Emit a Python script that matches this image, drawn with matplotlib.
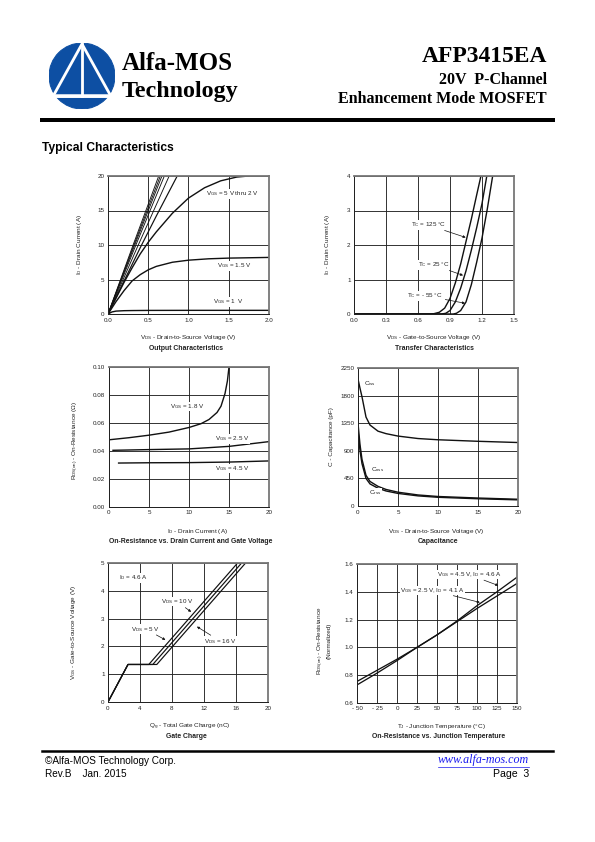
import matplotlib
matplotlib.use('Agg')
import matplotlib.pyplot as plt
from matplotlib.patches import Circle, Polygon

W, H = 595, 842

# ---- Output characteristics (VDS, ID) ----
out_vds_1v = [0, 0.05, 0.1, 0.2, 0.3, 0.5, 1.0, 2.0]
out_id_1v = [0, 0.3, 0.42, 0.48, 0.5, 0.52, 0.53, 0.53]
out_vds_15v = [0, 0.1, 0.2, 0.3, 0.4, 0.5, 0.6, 0.8, 1.0, 1.25, 1.5, 2.0]
out_id_15v = [0, 1.8, 3.4, 4.8, 5.7, 6.4, 6.9, 7.5, 7.8, 8.0, 8.1, 8.2]
out_vds_2v = [0, 0.1, 0.2, 0.3, 0.4, 0.5, 0.6, 0.8, 1.0, 1.2, 1.4, 1.6, 1.75]
out_id_2v = [0, 2.3, 4.6, 6.7, 8.7, 10.4, 11.9, 14.6, 16.8, 18.3, 19.3, 19.85, 20]
out_vds_25v = [0, 0.2, 0.4, 0.6, 0.86]
out_id_25v = [0, 4.8, 9.6, 14.2, 20]
out_vds_hi = [[0, 0.38, 0.76], [0, 0.35, 0.70], [0, 0.335, 0.67], [0, 0.325, 0.65], [0, 0.315, 0.63]]
out_id_hi = [0, 10.1, 20]

# ---- Transfer characteristics (VGS, ID) ----
tr_v_125 = [0, 0.72, 0.75, 0.80, 0.85, 0.90, 0.95, 1.00, 1.05, 1.10, 1.15, 1.19]
tr_i_125 = [0, 0, 0.01, 0.05, 0.17, 0.45, 0.9, 1.45, 2.1, 2.75, 3.45, 4.0]
tr_v_25 = [0, 0.82, 0.86, 0.90, 0.95, 1.00, 1.05, 1.10, 1.15, 1.20, 1.245]
tr_i_25 = [0, 0, 0.02, 0.1, 0.35, 0.75, 1.25, 1.85, 2.5, 3.2, 4.0]
tr_v_m55 = [0, 0.93, 0.96, 1.00, 1.05, 1.10, 1.15, 1.20, 1.25, 1.30]
tr_i_m55 = [0, 0, 0.02, 0.1, 0.35, 0.85, 1.5, 2.2, 3.05, 4.0]

# ---- On-resistance vs drain current ----
rd_id_18 = [0, 2.5, 5, 7.5, 10, 11.5, 12.5, 13.5, 14, 14.5, 14.8, 15]
rd_r_18 = [0.048, 0.0495, 0.0513, 0.0535, 0.0568, 0.0595, 0.0625, 0.0675, 0.072, 0.081, 0.09, 0.10]
rd_id_25 = [0.5, 5, 10, 15, 20]
rd_r_25 = [0.0405, 0.041, 0.0415, 0.0433, 0.0467]
rd_id_45 = [1.2, 5, 10, 15, 20]
rd_r_45 = [0.0314, 0.0316, 0.0317, 0.0321, 0.0329]

# ---- Capacitance ----
cap_v = [0, 0.25, 0.5, 1.0, 1.5, 2.5, 3.5, 5, 7.5, 10, 15, 20]
cap_ciss = [2070, 1920, 1780, 1450, 1320, 1220, 1180, 1140, 1100, 1080, 1055, 1035]
cap_coss = [1350, 1000, 760, 500, 400, 320, 270, 225, 180, 155, 130, 110]
cap_crss = [1230, 900, 690, 450, 360, 290, 245, 205, 165, 142, 118, 100]

# ---- Gate charge ----
gc_q_5 = [0, 2.5, 5.1, 16.2]
gc_q_10 = [0, 2.5, 5.6, 16.7]
gc_q_16 = [0, 2.5, 6.1, 17.2]
gc_v = [0, 1.35, 1.35, 5.0]

# ---- On-resistance vs junction temperature ----
tj = [-50, -25, 0, 25, 50, 75, 100, 125, 150]
rn_45 = [0.73, 0.815, 0.905, 1.0, 1.09, 1.19, 1.30, 1.40, 1.505]
rn_25 = [0.755, 0.835, 0.915, 1.0, 1.09, 1.185, 1.28, 1.37, 1.46]

plt.rcParams['font.family'] = ['Liberation Sans', 'DejaVu Sans']
plt.rcParams['mathtext.default'] = 'regular'

fig = plt.figure(figsize=(W / 72, H / 72), dpi=72)

AF = 6.3   # annotation size
LF = 6.4   # axis label size
TF = 6.9   # chart title size


def px(x, y):
    return x / W, 1 - y / H


def box(x0, y0, x1, y1):
    return fig.add_axes([x0 / W, 1 - y1 / H, (x1 - x0) / W, (y1 - y0) / H])


def style(ax, xlim, ylim, xt, yt, xtl=None, ytl=None):
    ax.set_xlim(*xlim)
    ax.set_ylim(*ylim)
    ax.set_xticks(xt)
    ax.set_yticks(yt)
    if xtl is not None:
        ax.set_xticklabels(xtl)
    if ytl is not None:
        ax.set_yticklabels(ytl)
    ax.tick_params(length=0, labelsize=6.2, pad=3.5, colors='#222')
    ax.grid(True, color='#222', lw=0.9)
    for s in ['left', 'bottom']:
        ax.spines[s].set_linewidth(1.0)
        ax.spines[s].set_color('#222')
    for s in ['top', 'right']:
        ax.spines[s].set_linewidth(1.8)
        ax.spines[s].set_color('#777')


def txt(x, y, s, **kw):
    kw.setdefault('fontsize', LF)
    kw.setdefault('ha', 'center')
    kw.setdefault('va', 'center')
    kw.setdefault('color', '#222')
    fig.text(*px(x, y), s, **kw)


LC = '#111'
ap = dict(arrowstyle='-|>', color='#111', lw=0.7, mutation_scale=5)
wb = dict(fc='white', ec='none', pad=0.4)


def note(ax, x, y, s):
    ax.text(x, y, s, fontsize=AF, va='center', color='#222', bbox=wb)


# Output characteristics
ax = box(108, 176, 269, 314)
style(ax, (0, 2), (0, 20), [0, 0.5, 1.0, 1.5, 2.0], [0, 5, 10, 15, 20],
      ['0.0', '0.5', '1.0', '1.5', '2.0'])
ax.plot(out_vds_1v, out_id_1v, color=LC, lw=1.4)
ax.plot(out_vds_15v, out_id_15v, color=LC, lw=1.4)
ax.plot(out_vds_2v, out_id_2v, color=LC, lw=1.4)
ax.plot(out_vds_25v, out_id_25v, color=LC, lw=1.2)
for v in out_vds_hi:
    ax.plot(v, out_id_hi, color=LC, lw=0.9)
note(ax, 1.22, 17.4, r'V$_{GS}$ = 5 V thru 2 V')
note(ax, 1.35, 7.0, r'V$_{GS}$ = 1.5 V')
note(ax, 1.30, 1.75, r'V$_{GS}$ = 1  V')
txt(188, 338, r'V$_{DS}$ - Drain-to-Source Voltage (V)')
txt(186, 348.5, 'Output Characteristics', fontweight='bold', fontsize=TF)
txt(80, 245, r'I$_D$ - Drain Current (A)', rotation=90)

# Transfer characteristics
ax = box(354, 176, 514, 314)
style(ax, (0, 1.5), (0, 4), [0, 0.3, 0.6, 0.9, 1.2, 1.5], [0, 1, 2, 3, 4],
      ['0.0', '0.3', '0.6', '0.9', '1.2', '1.5'])
ax.plot(tr_v_125, tr_i_125, color=LC, lw=1.4)
ax.plot(tr_v_25, tr_i_25, color=LC, lw=1.4)
ax.plot(tr_v_m55, tr_i_m55, color=LC, lw=1.4)
ax.annotate(r'T$_C$ = 125 °C', xy=(1.065, 2.2), xytext=(0.53, 2.58), fontsize=AF,
            va='center', color='#222', arrowprops=ap, bbox=wb)
ax.annotate(r'T$_C$ = 25 °C', xy=(1.04, 1.1), xytext=(0.60, 1.42), fontsize=AF,
            va='center', color='#222', arrowprops=ap, bbox=wb)
ax.annotate(r'T$_C$ = - 55 °C', xy=(1.06, 0.3), xytext=(0.50, 0.53), fontsize=AF,
            va='center', color='#222', arrowprops=ap, bbox=wb)
txt(434, 338, r'V$_{DS}$ - Gate-to-Source Voltage (V)')
txt(434, 348.5, 'Transfer Characteristics', fontweight='bold', fontsize=TF)
txt(328, 245, r'I$_D$ - Drain Current (A)', rotation=90)

# On-resistance vs drain current
ax = box(109, 367, 269, 507)
style(ax, (0, 20), (0, 0.10), [0, 5, 10, 15, 20], [0, 0.02, 0.04, 0.06, 0.08, 0.10],
      None, ['0.00', '0.02', '0.04', '0.06', '0.08', '0.10'])
ax.plot(rd_id_18, rd_r_18, color=LC, lw=1.4)
ax.plot(rd_id_25, rd_r_25, color=LC, lw=1.4)
ax.plot(rd_id_45, rd_r_45, color=LC, lw=1.4)
note(ax, 7.6, 0.0719, r'V$_{GS}$ = 1.8 V')
note(ax, 13.3, 0.0488, r'V$_{GS}$ = 2.5 V')
note(ax, 13.3, 0.0274, r'V$_{GS}$ = 4.5 V')
txt(197, 531.5, r'I$_D$ - Drain Current (A)')
txt(191, 541.5, 'On-Resistance vs. Drain Current and Gate Voltage', fontweight='bold', fontsize=TF)
txt(76, 440, r'R$_{DS(on)}$ - On-Resistance ($\Omega$)', rotation=90)

# Capacitance
ax = box(358, 368, 518, 506)
style(ax, (0, 20), (0, 2250), [0, 5, 10, 15, 20], [0, 450, 900, 1350, 1800, 2250])
ax.plot(cap_v, cap_ciss, color=LC, lw=1.4)
ax.plot(cap_v, cap_coss, color=LC, lw=1.4)
ax.plot(cap_v, cap_crss, color=LC, lw=1.4)
note(ax, 0.7, 1990, r'C$_{iss}$')
note(ax, 1.6, 600, r'C$_{oss}$')
note(ax, 1.4, 217, r'C$_{rss}$')
txt(436, 532, r'V$_{DS}$ - Drain-to-Source Voltage (V)')
txt(438, 541.5, 'Capacitance', fontweight='bold', fontsize=TF)
txt(331, 437, 'C - Capacitance (pF)', rotation=90)

# Gate charge
ax = box(108, 563, 268, 702)
style(ax, (0, 20), (0, 5), [0, 4, 8, 12, 16, 20], [0, 1, 2, 3, 4, 5])
ax.plot(gc_q_5, gc_v, color=LC, lw=1.2)
ax.plot(gc_q_10, gc_v, color=LC, lw=1.2)
ax.plot(gc_q_16, gc_v, color=LC, lw=1.2)
note(ax, 1.4, 4.46, r'I$_D$ = 4.6 A')
ax.annotate(r'V$_{DS}$ = 10 V', xy=(10.6, 3.2), xytext=(6.6, 3.61), fontsize=AF,
            va='center', color='#222', arrowprops=ap, bbox=wb)
ax.annotate(r'V$_{DS}$ = 5 V', xy=(7.4, 2.2), xytext=(2.9, 2.62), fontsize=AF,
            va='center', color='#222', arrowprops=ap, bbox=wb)
ax.annotate(r'V$_{DS}$ = 16 V', xy=(10.9, 2.75), xytext=(12.0, 2.19), fontsize=AF,
            va='center', color='#222', arrowprops=ap, bbox=wb)
txt(190, 726.5, r'Q$_g$ - Total Gate Charge (nC)')
txt(186, 736.5, 'Gate Charge', fontweight='bold', fontsize=TF)
txt(73, 632, r'V$_{GS}$ - Gate-to-Source Voltage (V)', rotation=90)

# On-resistance vs junction temperature
ax = box(357, 564, 517, 703)
style(ax, (-50, 150), (0.6, 1.6), tj, [0.6, 0.8, 1.0, 1.2, 1.4, 1.6],
      ['- 50', '- 25', '0', '25', '50', '75', '100', '125', '150'],
      ['0.6', '0.8', '1.0', '1.2', '1.4', '1.6'])
ax.plot(tj, rn_45, color=LC, lw=1.3)
ax.plot(tj, rn_25, color=LC, lw=1.3)
ax.annotate(r'V$_{GS}$ = 4.5 V, I$_D$ = 4.6 A', xy=(129, 1.44), xytext=(50, 1.523),
            fontsize=AF, va='center', color='#222', arrowprops=ap, bbox=wb)
ax.annotate(r'V$_{GS}$ = 2.5 V, I$_D$ = 4.1 A', xy=(106, 1.32), xytext=(4, 1.41),
            fontsize=AF, va='center', color='#222', arrowprops=ap, bbox=wb)
txt(441, 726.5, r'T$_J$ - Junction Temperature (°C)')
txt(439, 736.5, 'On-Resistance vs. Junction Temperature', fontweight='bold', fontsize=TF)
txt(321, 641, r'R$_{DS(on)}$ - On-Resistance', rotation=90)
txt(329.5, 641, '(Normalized)', rotation=90)

# ---- header ----
lax = box(49, 43, 115, 109)
lax.set_xlim(-1, 1)
lax.set_ylim(-1, 1)
lax.axis('off')
lax.add_patch(Circle((0, 0), 1, color='#0d4fa3'))
tri = Polygon([[0, 0.97], [-0.88, -0.62], [0.88, -0.62]], closed=True, fill=False,
              ec='white', lw=2.8, joinstyle='miter')
lax.add_patch(tri)
lax.plot([0, 0], [0.97, -0.62], color='white', lw=2.8)
lax.plot([-0.8, 0.8], [-0.62, -0.62], color='white', lw=3.5)

serif = ['Liberation Serif', 'DejaVu Serif']
txt(122, 63, 'Alfa-MOS', ha='left', fontsize=25, fontweight='bold', family=serif, color='black')
txt(122, 92, 'Technology', ha='left', fontsize=24, fontweight='bold', family=serif, color='black')
txt(547, 56, 'AFP3415EA', ha='right', fontsize=23.5, fontweight='bold', family=serif, color='black')
txt(547, 80, '20V  P-Channel', ha='right', fontsize=16, fontweight='bold', family=serif, color='black')
txt(547, 99, 'Enhancement Mode MOSFET', ha='right', fontsize=16, fontweight='bold', family=serif, color='black')
fig.add_artist(plt.Line2D([42 / W, 553 / W], [1 - 120.3 / H] * 2, color='black', lw=4))
txt(42, 147.5, 'Typical Characteristics', ha='left', fontsize=12, fontweight='bold', color='black')

# ---- footer ----
fig.add_artist(plt.Line2D([42 / W, 553 / W], [1 - 751 / H] * 2, color='black', lw=2.5))
txt(45, 761, '©Alfa-MOS Technology Corp.', ha='left', fontsize=10, color='black')
txt(45, 774, 'Rev.B    Jan. 2015', ha='left', fontsize=10, color='black')
txt(529, 760.5, 'www.alfa-mos.com', ha='right', fontsize=12, style='italic', family=serif, color='#1a1aee')
fig.add_artist(plt.Line2D([438 / W, 529 / W], [1 - 766.5 / H] * 2, color='#1a1aee', lw=0.7))
txt(529, 774, 'Page  3', ha='right', fontsize=10.5, color='black')

fig.savefig('out.png', dpi=72)
